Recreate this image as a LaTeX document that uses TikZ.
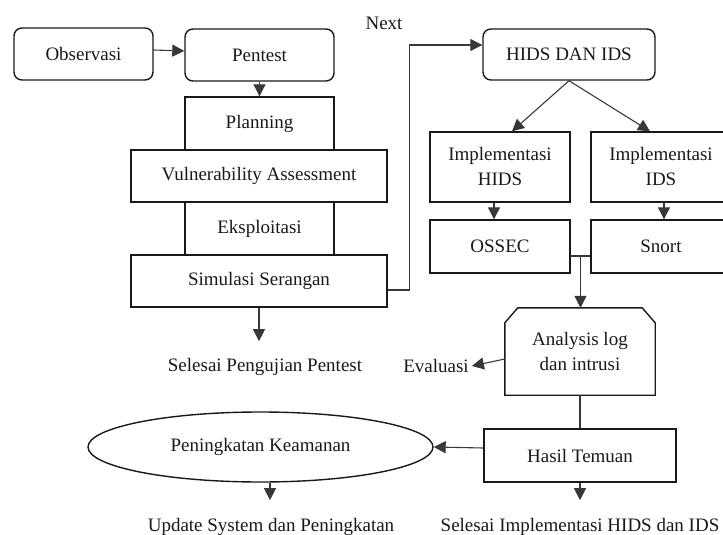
\documentclass[tikz,border=0pt]{standalone}
\usepackage{fontspec}
\setmainfont{Liberation Serif}
\usetikzlibrary{arrows.meta,shapes.geometric,calc}
\begin{document}
\begin{tikzpicture}[x=1pt,y=-1pt,
  txt/.style={font=\fontsize{19}{25}\selectfont, text=black!90},
  boxline/.style={draw=black!90, line width=1.4pt},
  box/.style={txt, boxline, inner sep=0pt, align=center},
  rbox/.style={box, rounded corners=8pt},
  lab/.style={txt, inner sep=0pt},
  con/.style={draw=black!78, line width=1.1pt},
  arr/.style={con, -{Triangle[length=12pt,width=12pt]}}]
\useasboundingbox (0,0) rectangle (723,535);

% left column
\node[rbox, minimum width=139pt, minimum height=52pt] (obs) at (83.5,54) {Observasi};
\node[rbox, minimum width=149pt, minimum height=52pt] (pen) at (259.5,55) {Pentest};
\node[box, minimum width=149pt, minimum height=53pt] (pla) at (259.5,123.5) {Planning};
\node[box, minimum width=256pt, minimum height=52pt] (vul) at (259,176) {Vulnerability Assessment};
\node[box, minimum width=149pt, minimum height=53pt] (eks) at (259.5,228.5) {Eksploitasi};
\node[box, minimum width=256pt, minimum height=52pt] (sim) at (259,281) {Simulasi Serangan};
\node[lab] (selp) at (265,367) {Selesai Pengujian Pentest};
\node[lab] (next) at (384,23) {Next};

% right column
\node[rbox, minimum width=172pt, minimum height=51pt] (hids) at (569,54.5) {HIDS DAN IDS};
\node[box, minimum width=140pt, minimum height=70pt] (ih) at (500,167) {Implementasi\\HIDS};
\node[box, minimum width=140pt, minimum height=70pt] (ii) at (661,167) {Implementasi\\IDS};
\node[box, minimum width=140pt, minimum height=53pt] (oss) at (500,246.5) {OSSEC};
\node[box, minimum width=140pt, minimum height=53pt] (sno) at (661,246.5) {Snort};
\node[txt, inner sep=0pt, align=center, minimum width=150pt, minimum height=87pt] (ana) at (580,351.5) {Analysis log\\dan intrusi};
\draw[boxline] (ana.south west) -- ([yshift=-15pt]ana.north west) -- ([xshift=13pt]ana.north west)
  -- ([xshift=-13pt]ana.north east) -- ([yshift=-15pt]ana.north east) -- (ana.south east) -- cycle;
\node[lab] (eva) at (436,366) {Evaluasi};
\node[box, minimum width=192pt, minimum height=53pt] (has) at (580,455.5) {Hasil Temuan};
\node[box, ellipse, minimum width=345pt, minimum height=70pt] (ell) at (260.5,447) {Peningkatan Keamanan};
\node[lab] (upd) at (271,527) {Update System dan Peningkatan};
\node[lab] (seli) at (580,527) {Selesai Implementasi HIDS dan IDS};
\coordinate (selptop) at ([yshift=17pt]selp.north);
\coordinate (updtop) at ([xshift=-1pt,yshift=18pt]upd.north);
\coordinate (selitop) at ([yshift=18pt]seli.north);

% connectors
\draw[arr] ([yshift=4pt]obs.east) -- ([yshift=4pt]pen.west);
\draw[arr] (pen.south) -- (pla.north);
\draw[arr] (sim.south) -- (sim.south |- selptop);
\draw[arr] ([yshift=-9pt]sim.east) -- ++(22,0) |- ([yshift=9.5pt]hids.west);
\draw[arr] (hids.south) -- ([xshift=12pt]ih.north);
\draw[arr] (hids.south) -- ([xshift=-11pt]ii.north);
\draw[arr] ([xshift=-6pt]ih.south) -- ([xshift=-6pt]oss.north);
\draw[arr] ([xshift=3pt]ii.south) -- ([xshift=3pt]sno.north);
\coordinate (j) at ($([yshift=-9.5pt]oss.east)!0.5!([yshift=-9.5pt]sno.west)$);
\draw[con] ([yshift=-9.5pt]oss.east) -- ([yshift=-9.5pt]sno.west);
\draw[arr] (j) -- (j |- ana.north);
\draw[arr] ([yshift=-7.5pt]ana.west) -- ([xshift=3pt]eva.east);
\draw[con] (ana.south) -- (has.north);
\draw[arr] ([yshift=7.5pt]has.west) -- (ell.east);
\draw[arr] (has.south) -- (selitop);
\draw[arr] (ell.south -| updtop) -- (updtop);
\end{tikzpicture}
\end{document}
